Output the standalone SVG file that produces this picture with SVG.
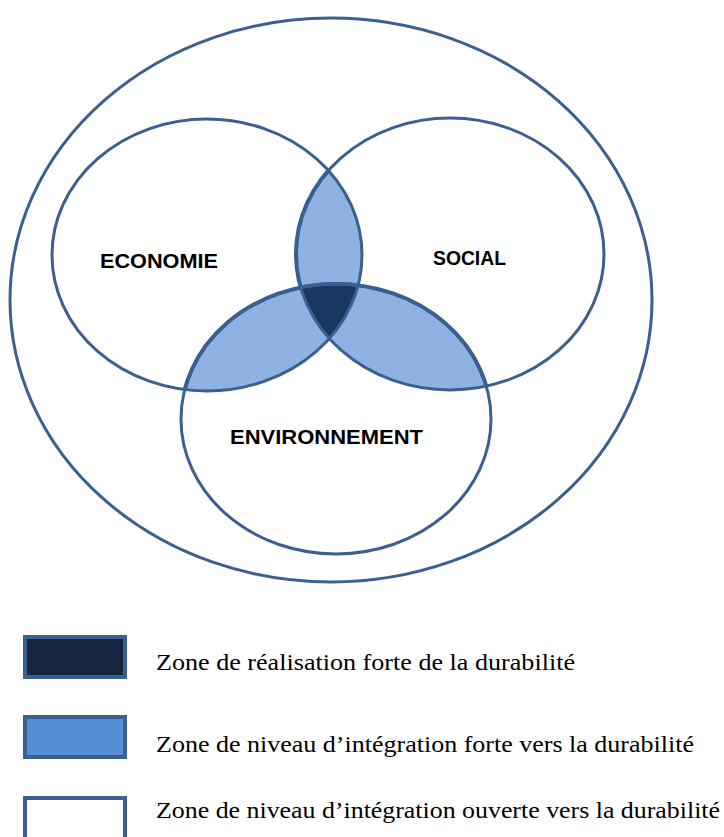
<svg xmlns="http://www.w3.org/2000/svg" width="724" height="837" viewBox="0 0 724 837">
<style>
.ring{fill:none;stroke:#3B6090;stroke-width:3}
.lens{fill:#8EB3E2;stroke:#3B6090;stroke-width:4}
.core{fill:#17375E;stroke:#3B6090;stroke-width:3}
.lbl{font-family:"Liberation Sans",Arial,sans-serif;font-weight:bold;font-size:21px;fill:#000}
.leg{font-family:"Liberation Serif","Times New Roman",serif;font-size:23px;fill:#000}
.box{stroke:#3B6090;stroke-width:4}
</style>
<defs>
<ellipse id="eco" cx="207" cy="255" rx="155" ry="136"/>
<ellipse id="soc" cx="450" cy="254" rx="154" ry="136"/>
<ellipse id="env" cx="336" cy="419" rx="155" ry="135"/>
<clipPath id="cEco"><use href="#eco"/></clipPath>
<clipPath id="cSoc"><use href="#soc"/></clipPath>
<clipPath id="cEnv"><use href="#env"/></clipPath>
</defs>
<rect width="724" height="837" fill="#fff"/>
<g id="outer"><ellipse class="ring" cx="331" cy="300" rx="321" ry="282"/></g>
<g id="zones">
<g clip-path="url(#cEco)"><use href="#soc" class="lens"/></g>
<g clip-path="url(#cEco)"><use href="#env" class="lens"/></g>
<g clip-path="url(#cSoc)"><use href="#env" class="lens"/></g>
<g clip-path="url(#cEco)"><g clip-path="url(#cSoc)"><use href="#env" class="core"/></g></g>
</g>
<g id="economie"><use href="#eco" class="ring"/><text class="lbl" x="100" y="268" textLength="118" lengthAdjust="spacingAndGlyphs">ECONOMIE</text></g>
<g id="social"><use href="#soc" class="ring"/><text class="lbl" x="433" y="265" textLength="73" lengthAdjust="spacingAndGlyphs">SOCIAL</text></g>
<g id="environnement"><use href="#env" class="ring"/><text class="lbl" x="230" y="444" textLength="193" lengthAdjust="spacingAndGlyphs">ENVIRONNEMENT</text></g>
<g id="legend">
<rect class="box" x="25" y="637" width="100" height="40" fill="#14263F"/>
<text class="leg" x="156" y="670" textLength="419" lengthAdjust="spacingAndGlyphs">Zone de réalisation forte de la durabilité</text>
<rect class="box" x="25" y="717" width="100" height="40" fill="#558ED5"/>
<text class="leg" x="156" y="752" textLength="538" lengthAdjust="spacingAndGlyphs">Zone de niveau d’intégration forte vers la durabilité</text>
<rect class="box" x="25" y="798" width="100" height="42" fill="#fff"/>
<text class="leg" x="156" y="818" textLength="564" lengthAdjust="spacingAndGlyphs">Zone de niveau d’intégration ouverte vers la durabilité</text>
</g>
</svg>
